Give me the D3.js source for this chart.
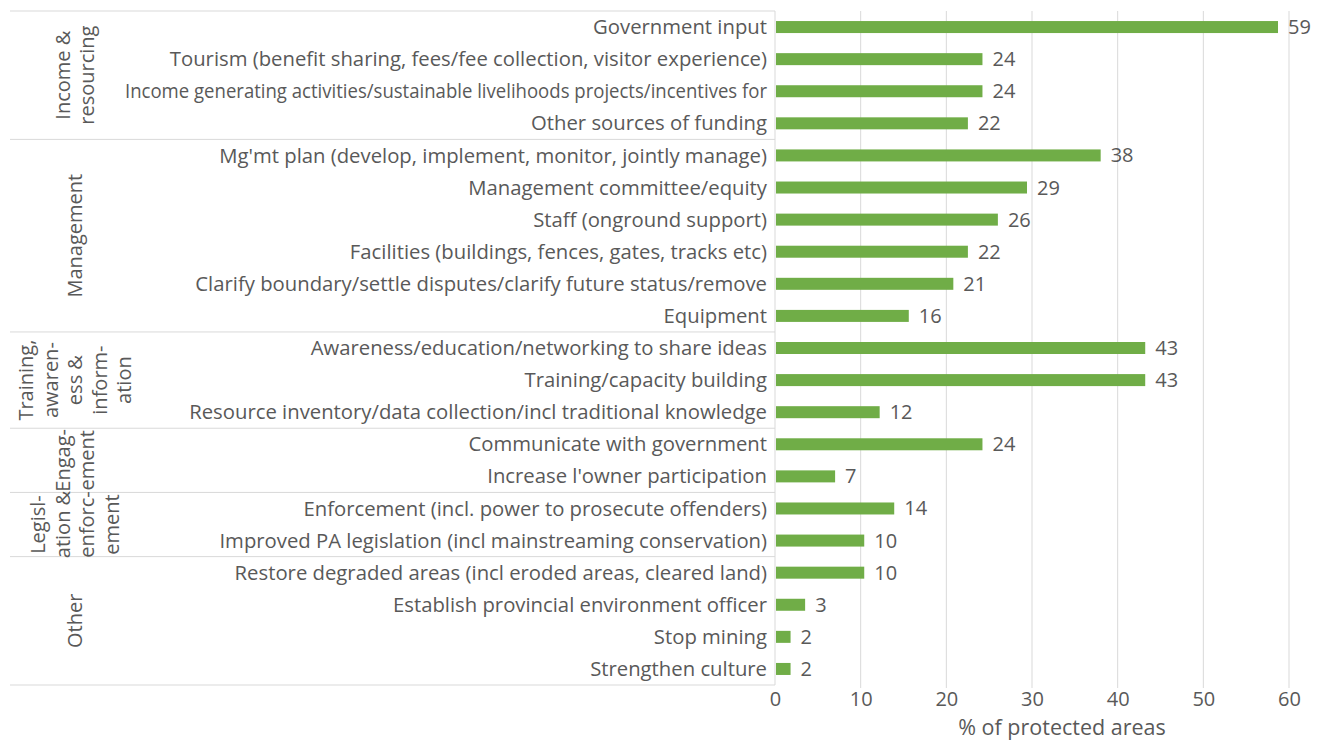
<!DOCTYPE html>
<html>
<head>
<meta charset="utf-8">
<script src="https://cdn.jsdelivr.net/npm/d3@7"></script>
<style>
  body { margin: 0; background: #fff; }
  text { font-family: "Open Sans", sans-serif; fill: #595959; }
</style>
</head>
<body>
<svg width="1317" height="740"></svg>
<script>
// data (% of protected areas)
var categories = [
  "Government input",
  "Tourism (benefit sharing, fees/fee collection, visitor experience)",
  "Income generating activities/sustainable livelihoods projects/incentives for",
  "Other sources of funding",
  "Mg'mt plan (develop, implement, monitor, jointly manage)",
  "Management committee/equity",
  "Staff (onground support)",
  "Facilities (buildings, fences, gates, tracks etc)",
  "Clarify boundary/settle disputes/clarify future status/remove",
  "Equipment",
  "Awareness/education/networking to share ideas",
  "Training/capacity building",
  "Resource inventory/data collection/incl traditional knowledge",
  "Communicate with government",
  "Increase l'owner participation",
  "Enforcement (incl. power to prosecute offenders)",
  "Improved PA legislation (incl mainstreaming conservation)",
  "Restore degraded areas (incl eroded areas, cleared land)",
  "Establish provincial environment officer",
  "Stop mining",
  "Strengthen culture"
];
var values = [58.6, 24.1, 24.1, 22.4, 37.9, 29.3, 25.9, 22.4, 20.7, 15.5, 43.1, 43.1, 12.1, 24.1, 6.9, 13.8, 10.3, 10.3, 3.4, 1.7, 1.7];

var groupNames = [
  ["Income &", "resourcing"],
  ["Management"],
  ["Training,", "awaren-", "ess &", "inform-", "ation"],
  ["Engag-", "ement"],
  ["Legisl-", "ation &", "enforc-", "ement"],
  ["Other"]
];
var groupSizes = [4, 6, 3, 2, 2, 4];

var xTicks = [0, 10, 20, 30, 40, 50, 60];
var xTitle = "% of protected areas";

var svg = d3.select("svg"),
    plotL = 775, plotR = 1289, plotT = 11, plotB = 685,
    labelMinX = 125;

var x = d3.scaleLinear().domain([0, 60]).range([plotL, plotR]);
var y = d3.scaleBand().domain(d3.range(categories.length)).range([plotT, plotB]);
var barH = 12;

// gridlines
svg.append("g")
  .selectAll("line")
  .data(xTicks.slice(1))
  .enter().append("line")
  .attr("x1", function(d) { return x(d); })
  .attr("x2", function(d) { return x(d); })
  .attr("y1", plotT)
  .attr("y2", plotB + 3)
  .attr("stroke", "#d9d9d9")
  .attr("stroke-width", 1);

// x axis tick labels
var xAxis = svg.append("g")
  .attr("transform", "translate(0," + plotB + ")")
  .call(d3.axisBottom(x).tickValues(xTicks).tickSize(0).tickPadding(7));
xAxis.select(".domain").remove();
xAxis.selectAll("text")
  .style("font-family", "Open Sans")
  .style("font-size", "20px")
  .attr("fill", "#595959");

svg.append("text")
  .attr("x", 1062)
  .attr("y", 735)
  .attr("text-anchor", "middle")
  .style("font-size", "21.5px")
  .text(xTitle);

// group separator lines
var bounds = [0];
groupSizes.forEach(function(n, i) { bounds.push(bounds[i] + n); });

svg.append("g")
  .selectAll("line")
  .data(bounds)
  .enter().append("line")
  .attr("x1", 10)
  .attr("x2", plotL)
  .attr("y1", function(d) { return plotT + d * y.step(); })
  .attr("y2", function(d) { return plotT + d * y.step(); })
  .attr("stroke", "#d9d9d9")
  .attr("stroke-width", 1);

// vertical axis line
svg.append("line")
  .attr("x1", plotL).attr("x2", plotL)
  .attr("y1", plotT).attr("y2", plotB)
  .attr("stroke", "#d9d9d9");

// group labels, rotated
var lineH = 24.5, cx = 75;
groupNames.forEach(function(lines, gi) {
  var cy = plotT + (bounds[gi] + groupSizes[gi] / 2) * y.step();
  lines.forEach(function(t, i) {
    var lx = cx + (i - (lines.length - 1) / 2) * lineH;
    svg.append("text")
      .attr("transform", "translate(" + lx + "," + cy + ") rotate(-90)")
      .attr("text-anchor", "middle")
      .attr("dy", "0.35em")
      .style("font-size", "20px")
      .text(t);
  });
});

// category labels (squeezed if they run into the group column, like excel does)
var maxW = plotL - 8 - labelMinX;
svg.append("g")
  .selectAll("text")
  .data(categories)
  .enter().append("text")
  .attr("x", plotL - 8)
  .attr("y", function(d, i) { return y(i) + y.bandwidth() / 2; })
  .attr("dy", "0.35em")
  .attr("text-anchor", "end")
  .style("font-size", "20.3px")
  .text(function(d) { return d; })
  .each(function() {
    if (this.getComputedTextLength() > maxW) {
      d3.select(this).attr("textLength", maxW).attr("lengthAdjust", "spacingAndGlyphs");
    }
  });

// bars
svg.append("g")
  .selectAll("rect")
  .data(values)
  .enter().append("rect")
  .attr("x", x(0) + 1)
  .attr("y", function(d, i) { return y(i) + y.bandwidth() / 2 - barH / 2; })
  .attr("width", function(d) { return x(d) - x(0); })
  .attr("height", barH)
  .attr("fill", "#70ad47");

// value labels
svg.append("g")
  .selectAll("text")
  .data(values)
  .enter().append("text")
  .attr("x", function(d) { return x(d) + 11; })
  .attr("y", function(d, i) { return y(i) + y.bandwidth() / 2; })
  .attr("dy", "0.35em")
  .style("font-size", "20px")
  .attr("fill", "#404040")
  .text(function(d) { return Math.round(d); });
</script>
</body>
</html>
